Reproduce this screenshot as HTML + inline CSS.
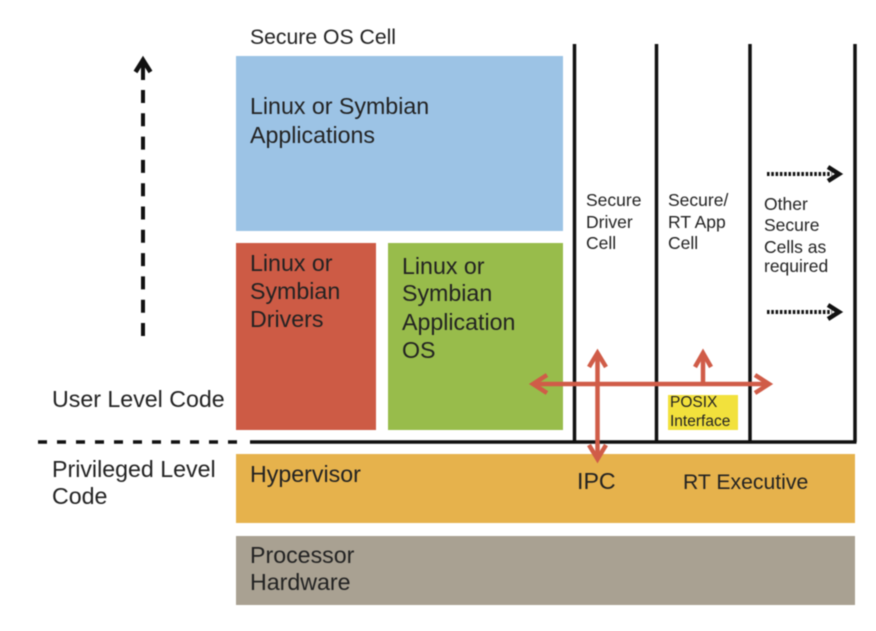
<!DOCTYPE html>
<html><head><meta charset="utf-8"><style>
html,body{margin:0;padding:0;background:#fff}
svg{display:block}
text{font-family:"Liberation Sans",sans-serif;fill:#222}
.a{font-size:23.2px}
.b{font-size:17.500px}
.c{font-size:15.500px}
</style></head><body>
<svg width="876" height="631" viewBox="0 0 876 631" xmlns="http://www.w3.org/2000/svg">
<g style="filter:blur(0.4px)">
<rect x="236" y="56" width="327" height="175" fill="#9cc3e5"/>
<rect x="236" y="243" width="140" height="187" fill="#cd5b45"/>
<rect x="388" y="243" width="175" height="187" fill="#98bc4b"/>
<rect x="236" y="454" width="619" height="69" fill="#e6b24c"/>
<rect x="236" y="536" width="619" height="69" fill="#a9a192"/>
<rect x="668" y="395" width="70" height="35" fill="#f2e13c"/>
<g stroke="#111" stroke-width="3.500" fill="none">
<path d="M574.500 44V442M656.500 44V442M750 44V442M855 44V442"/>
<path d="M250 442H856.500" stroke-width="3.500"/>
<path d="M38 442H246" stroke-dasharray="9 10" stroke-width="3.500"/>
<path d="M143 336V70" stroke-dasharray="13 10.300" stroke-width="4"/>
<path d="M135.500 72L143 60L150.500 72" stroke-width="4.500"/>
<path d="M143 60V80" stroke-width="4"/>
<path d="M767 174H832M767 312H832" stroke-dasharray="2.500 1.800" stroke-width="4"/>
<path d="M828 167L839 174L828 181M828 305L839 312L828 319" stroke-width="4.500"/>
</g>
<g stroke="#d05c48" stroke-width="4.500" fill="none">
<path d="M533 384H768"/>
<path d="M597.500 354V458"/>
<path d="M703 354V384"/>
<path d="M547 375L533 384L547 393M755 375L769 384L755 393"/>
<path d="M589 367L597.500 353L606 367M695 367L703 353L711 367M589 445L597.500 459L606 445"/>
</g>
<text x="250" y="44" style="font-size:21.200px">Secure OS Cell</text>
<text class="a" x="250" y="114">Linux or Symbian</text>
<text class="a" x="250" y="143">Applications</text>
<text class="a" x="250" y="271">Linux or</text>
<text class="a" x="250" y="299">Symbian</text>
<text class="a" x="250" y="327">Drivers</text>
<text class="a" x="402" y="274">Linux or</text>
<text class="a" x="402" y="301">Symbian</text>
<text class="a" x="402" y="330">Application</text>
<text class="a" x="402" y="358">OS</text>
<text class="b" x="586" y="206">Secure</text>
<text class="b" x="586" y="228">Driver</text>
<text class="b" x="586" y="249">Cell</text>
<text class="b" x="668" y="206">Secure/</text>
<text class="b" x="668" y="228">RT App</text>
<text class="b" x="668" y="249">Cell</text>
<text class="b" x="764" y="210">Other</text>
<text class="b" x="764" y="231">Secure</text>
<text class="b" x="764" y="253">Cells as</text>
<text class="b" x="764" y="272">required</text>
<text class="c" x="670" y="407">POSIX</text>
<text class="c" x="670" y="426">Interface</text>
<text class="a" x="52" y="407">User Level Code</text>
<text class="a" x="52" y="477">Privileged Level</text>
<text class="a" x="52" y="504">Code</text>
<text class="a" x="250" y="482">Hypervisor</text>
<text class="a" x="577" y="489">IPC</text>
<text x="683" y="489" style="font-size:21.200px">RT Executive</text>
<text class="a" x="250" y="563">Processor</text>
<text class="a" x="250" y="590">Hardware</text>
</g>
</svg>
</body></html>
